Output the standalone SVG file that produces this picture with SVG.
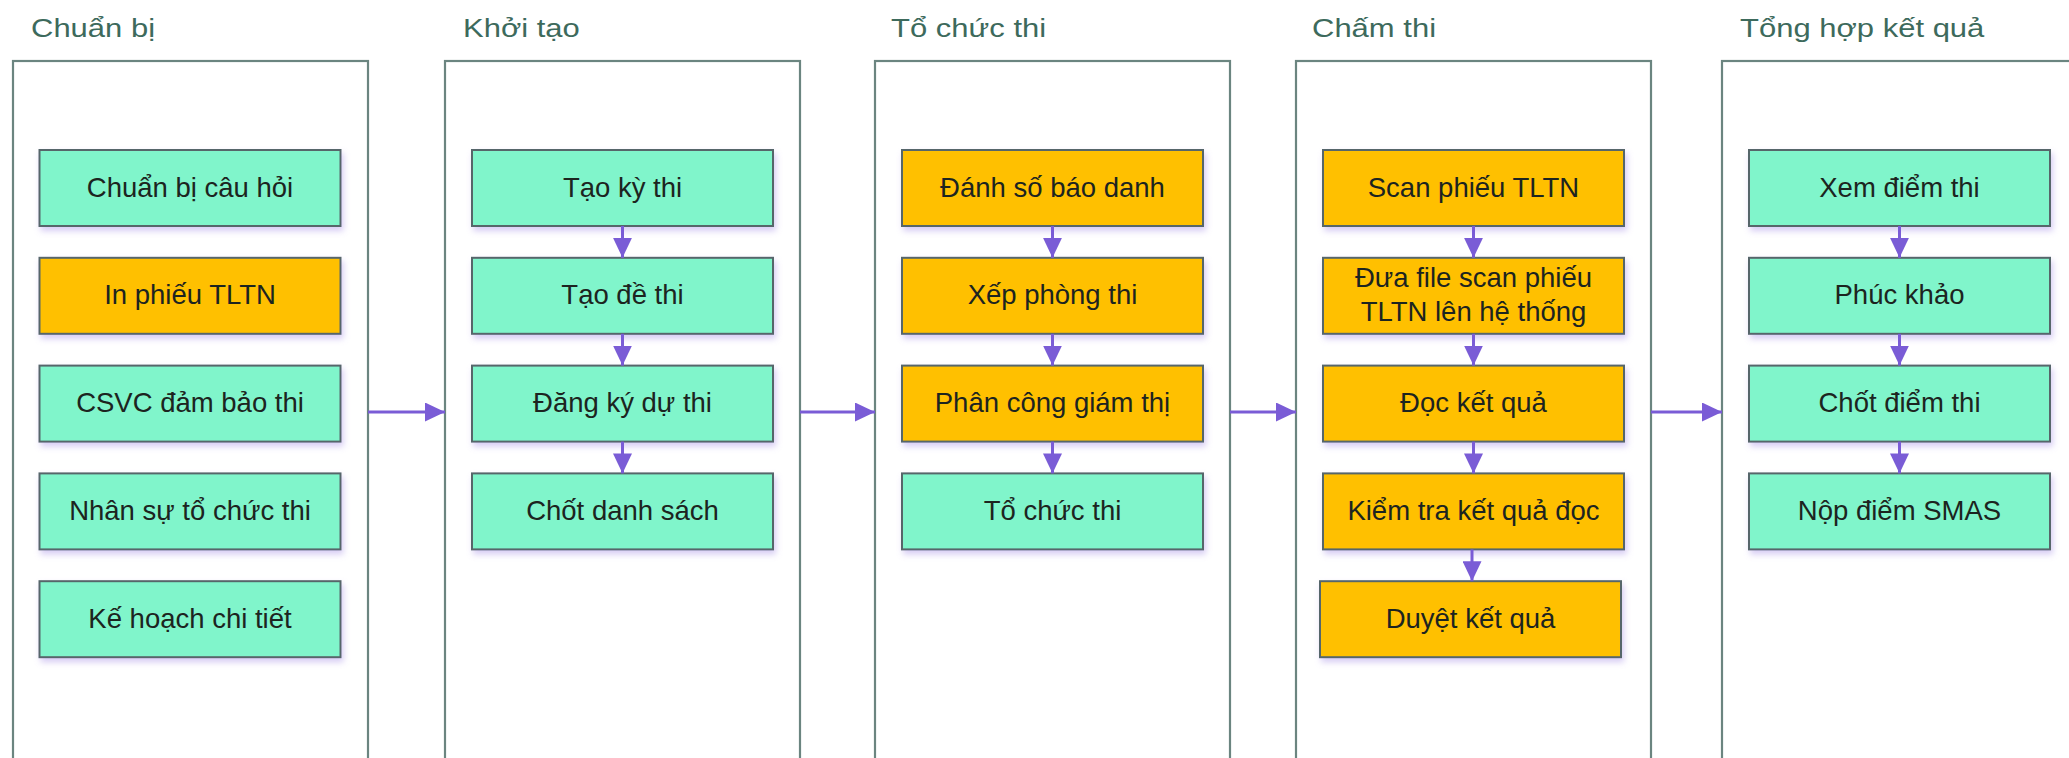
<svg xmlns="http://www.w3.org/2000/svg" width="2069" height="758" viewBox="0 0 2069 758">
<style>
.col{fill:#ffffff;stroke:#6b8580;stroke-width:2.2}
.title{font-family:"Liberation Sans",Arial,sans-serif;font-size:25px;fill:#3d6a5c}
.box{stroke:#56666b;stroke-width:2;filter:url(#sh)}
.teal{fill:#80f5cb}
.orange{fill:#ffc000}
.lbl{font-family:"Liberation Sans",Arial,sans-serif;font-size:27.5px;fill:#1c2420;text-anchor:middle}
.conn{stroke:#7a5cd6;stroke-width:3;fill:none;marker-end:url(#ah)}
</style>
<defs>
<filter id="sh" x="-10%" y="-20%" width="120%" height="150%">
<feDropShadow dx="2" dy="4" stdDeviation="3" flood-color="#a58de6" flood-opacity="0.45"/>
</filter>
<marker id="ah" markerUnits="userSpaceOnUse" markerWidth="20" markerHeight="19" refX="20" refY="9.5" orient="auto">
<path d="M0,0 L20,9.5 L0,19 z" fill="#7a5cd6"/>
</marker>
</defs>
<rect width="2069" height="758" fill="#ffffff"/>

<g id="col-chuan-bi">
<rect class="col" x="13" y="61" width="355" height="720"/>
<text class="title" transform="translate(31,37) scale(1.24,1)">Chuẩn bị</text>
</g>
<g id="col-khoi-tao">
<rect class="col" x="445" y="61" width="355" height="720"/>
<text class="title" transform="translate(463,37) scale(1.24,1)">Khởi tạo</text>
</g>
<g id="col-to-chuc-thi">
<rect class="col" x="875" y="61" width="355" height="720"/>
<text class="title" transform="translate(891,37) scale(1.24,1)">Tổ chức thi</text>
</g>
<g id="col-cham-thi">
<rect class="col" x="1296" y="61" width="355" height="720"/>
<text class="title" transform="translate(1312,37) scale(1.24,1)">Chấm thi</text>
</g>
<g id="col-tong-hop">
<rect class="col" x="1722" y="61" width="355" height="720"/>
<text class="title" transform="translate(1740,37) scale(1.24,1)">Tổng hợp kết quả</text>
</g>

<g id="n-chuan-bi-cau-hoi"><rect class="box teal" x="39.5" y="150" width="301" height="76"/><text class="lbl" x="190" y="196.5">Chuẩn bị câu hỏi</text></g>
<g id="n-in-phieu"><rect class="box orange" x="39.5" y="257.8" width="301" height="76"/><text class="lbl" x="190" y="304.3">In phiếu TLTN</text></g>
<g id="n-csvc"><rect class="box teal" x="39.5" y="365.6" width="301" height="76"/><text class="lbl" x="190" y="412.1">CSVC đảm bảo thi</text></g>
<g id="n-nhan-su"><rect class="box teal" x="39.5" y="473.4" width="301" height="76"/><text class="lbl" x="190" y="519.9">Nhân sự tổ chức thi</text></g>
<g id="n-ke-hoach"><rect class="box teal" x="39.5" y="581.2" width="301" height="76"/><text class="lbl" x="190" y="627.7">Kế hoạch chi tiết</text></g>

<g id="n-tao-ky-thi"><rect class="box teal" x="472" y="150" width="301" height="76"/><text class="lbl" x="622.5" y="196.5">Tạo kỳ thi</text></g>
<g id="n-tao-de-thi"><rect class="box teal" x="472" y="257.8" width="301" height="76"/><text class="lbl" x="622.5" y="304.3">Tạo đề thi</text></g>
<g id="n-dang-ky"><rect class="box teal" x="472" y="365.6" width="301" height="76"/><text class="lbl" x="622.5" y="412.1">Đăng ký dự thi</text></g>
<g id="n-chot-ds"><rect class="box teal" x="472" y="473.4" width="301" height="76"/><text class="lbl" x="622.5" y="519.9">Chốt danh sách</text></g>

<g id="n-danh-sbd"><rect class="box orange" x="902" y="150" width="301" height="76"/><text class="lbl" x="1052.5" y="196.5">Đánh số báo danh</text></g>
<g id="n-xep-phong"><rect class="box orange" x="902" y="257.8" width="301" height="76"/><text class="lbl" x="1052.5" y="304.3">Xếp phòng thi</text></g>
<g id="n-phan-cong"><rect class="box orange" x="902" y="365.6" width="301" height="76"/><text class="lbl" x="1052.5" y="412.1">Phân công giám thị</text></g>
<g id="n-to-chuc-thi"><rect class="box teal" x="902" y="473.4" width="301" height="76"/><text class="lbl" x="1052.5" y="519.9">Tổ chức thi</text></g>

<g id="n-scan"><rect class="box orange" x="1323" y="150" width="301" height="76"/><text class="lbl" x="1473.5" y="196.5">Scan phiếu TLTN</text></g>
<g id="n-dua-file"><rect class="box orange" x="1323" y="257.8" width="301" height="76"/><text class="lbl" x="1473.5" y="287">Đưa file scan phiếu</text><text class="lbl" x="1473.5" y="321">TLTN lên hệ thống</text></g>
<g id="n-doc-kq"><rect class="box orange" x="1323" y="365.6" width="301" height="76"/><text class="lbl" x="1473.5" y="412.1">Đọc kết quả</text></g>
<g id="n-kiem-tra"><rect class="box orange" x="1323" y="473.4" width="301" height="76"/><text class="lbl" x="1473.5" y="519.9">Kiểm tra kết quả đọc</text></g>
<g id="n-duyet"><rect class="box orange" x="1320" y="581.2" width="301" height="76"/><text class="lbl" x="1470.5" y="627.7">Duyệt kết quả</text></g>

<g id="n-xem-diem"><rect class="box teal" x="1749" y="150" width="301" height="76"/><text class="lbl" x="1899.5" y="196.5">Xem điểm thi</text></g>
<g id="n-phuc-khao"><rect class="box teal" x="1749" y="257.8" width="301" height="76"/><text class="lbl" x="1899.5" y="304.3">Phúc khảo</text></g>
<g id="n-chot-diem"><rect class="box teal" x="1749" y="365.6" width="301" height="76"/><text class="lbl" x="1899.5" y="412.1">Chốt điểm thi</text></g>
<g id="n-nop-diem"><rect class="box teal" x="1749" y="473.4" width="301" height="76"/><text class="lbl" x="1899.5" y="519.9">Nộp điểm SMAS</text></g>

<g id="connectors">
<line class="conn" x1="368" y1="412" x2="445" y2="412"/>
<line class="conn" x1="800" y1="412" x2="875" y2="412"/>
<line class="conn" x1="1230" y1="412" x2="1296" y2="412"/>
<line class="conn" x1="1651" y1="412" x2="1722" y2="412"/>

<line class="conn" x1="622.5" y1="226" x2="622.5" y2="257.8"/>
<line class="conn" x1="622.5" y1="333.8" x2="622.5" y2="365.6"/>
<line class="conn" x1="622.5" y1="441.6" x2="622.5" y2="473.4"/>

<line class="conn" x1="1052.5" y1="226" x2="1052.5" y2="257.8"/>
<line class="conn" x1="1052.5" y1="333.8" x2="1052.5" y2="365.6"/>
<line class="conn" x1="1052.5" y1="441.6" x2="1052.5" y2="473.4"/>

<line class="conn" x1="1473.5" y1="226" x2="1473.5" y2="257.8"/>
<line class="conn" x1="1473.5" y1="333.8" x2="1473.5" y2="365.6"/>
<line class="conn" x1="1473.5" y1="441.6" x2="1473.5" y2="473.4"/>
<line class="conn" x1="1472" y1="549.4" x2="1472" y2="581.2"/>

<line class="conn" x1="1899.5" y1="226" x2="1899.5" y2="257.8"/>
<line class="conn" x1="1899.5" y1="333.8" x2="1899.5" y2="365.6"/>
<line class="conn" x1="1899.5" y1="441.6" x2="1899.5" y2="473.4"/>
</g>
</svg>
